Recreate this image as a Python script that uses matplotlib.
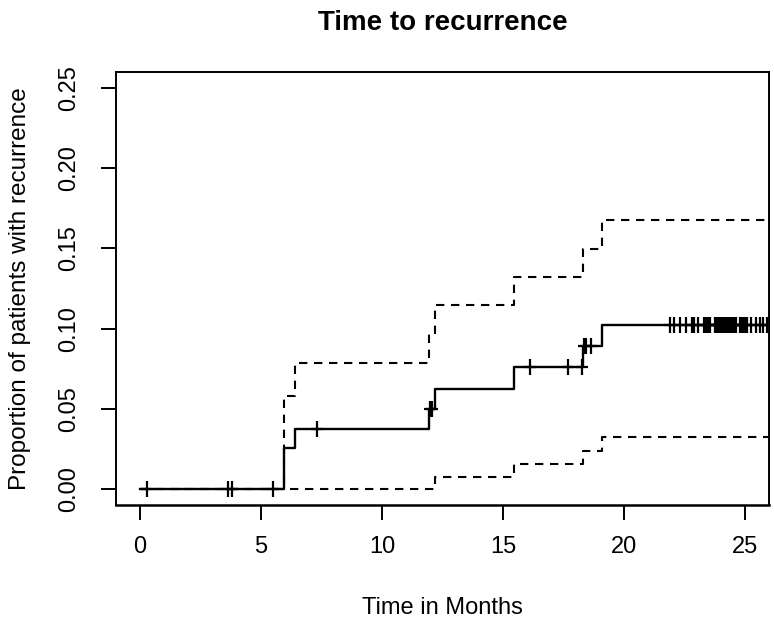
import numpy as np
import matplotlib
matplotlib.use('Agg')
import matplotlib.pyplot as plt
from matplotlib.path import Path

plt.rcParams['font.family'] = ['Liberation Sans', 'DejaVu Sans']

# courbe d'incidence cumulée (1 - KM) et intervalle de confiance
step_times = [0, 5.93, 6.4, 11.94, 12.2, 15.45, 18.3, 19.08, 26.5]
estimate = [0, 0.0256, 0.0375, 0.05, 0.0625, 0.0758, 0.089, 0.1025, 0.1025]
lower_ci = [0, 0, 0, 0.0002, 0.0075, 0.0154, 0.0237, 0.0323, 0.0323]
upper_ci = [0, 0.0577, 0.0786, 0.0967, 0.1146, 0.1323, 0.1498, 0.168, 0.168]

# temps de censure
censor_times = [0.3, 3.65, 3.8, 5.48, 7.3, 12.0, 12.05, 16.1, 17.7, 18.25,
                18.35, 18.45, 18.65,
                21.9, 22.07, 22.3, 22.55, 22.8, 22.9, 23.07, 23.3, 23.35,
                23.4, 23.45, 23.5, 23.55, 23.75, 23.8, 23.85, 23.9, 23.95,
                24.0, 24.05, 24.1, 24.15, 24.2, 24.25, 24.3, 24.35, 24.4,
                24.45, 24.5, 24.55, 24.6, 24.65, 24.8, 24.85, 24.9, 24.95,
                25.0, 25.05, 25.1, 25.27, 25.48, 25.62, 25.75, 25.9]

x_ticks = [0, 5, 10, 15, 20, 25]
y_ticks = [0.00, 0.05, 0.10, 0.15, 0.20, 0.25]

fig = plt.figure(figsize=(7.74, 6.24), dpi=100)
ax = fig.add_axes([116 / 774, 1 - 505 / 624, 653 / 774, 433 / 624])

ax.step(step_times, upper_ci, where='post', color='black', lw=1.5, linestyle=(0, (4, 3.2)))
ax.step(step_times, lower_ci, where='post', color='black', lw=1.5, linestyle=(0, (4, 3.2)))
ax.step(step_times, estimate, where='post', color='black', lw=1.7)

# niveau de la courbe au moment de chaque censure
idx = np.searchsorted(step_times, censor_times, side='right') - 1
censor_y = np.array(estimate)[idx]
plus = Path([(-0.38, 0), (0.38, 0), (0, -0.5), (0, 0.5)],
            [Path.MOVETO, Path.LINETO, Path.MOVETO, Path.LINETO])
ax.plot(censor_times, censor_y, linestyle='none', marker=plus, markersize=12,
        markeredgewidth=1.6, color='black')

ax.set_xlim(-1, 26)
ax.set_ylim(-0.01, 0.26)
ax.set_xticks(x_ticks)
ax.set_xticklabels([str(v) for v in x_ticks])
ax.set_yticks(y_ticks)
ax.set_yticklabels(['%.2f' % v for v in y_ticks], rotation=90, va='center')
ax.tick_params(direction='out', length=10.5, width=1.4, labelsize=17, pad=12)
ax.tick_params(axis='y', pad=15)
for s in ax.spines.values():
    s.set_linewidth(1.4)
ax.spines['bottom'].set_linewidth(1.8)

ax.set_title('Time to recurrence', fontsize=20, fontweight='bold', pad=30)
ax.set_xlabel('Time in Months', fontsize=17, labelpad=28)
ax.set_ylabel('Proportion of patients with recurrence', fontsize=17.5, labelpad=20)

plt.savefig('out.png', dpi=100)
